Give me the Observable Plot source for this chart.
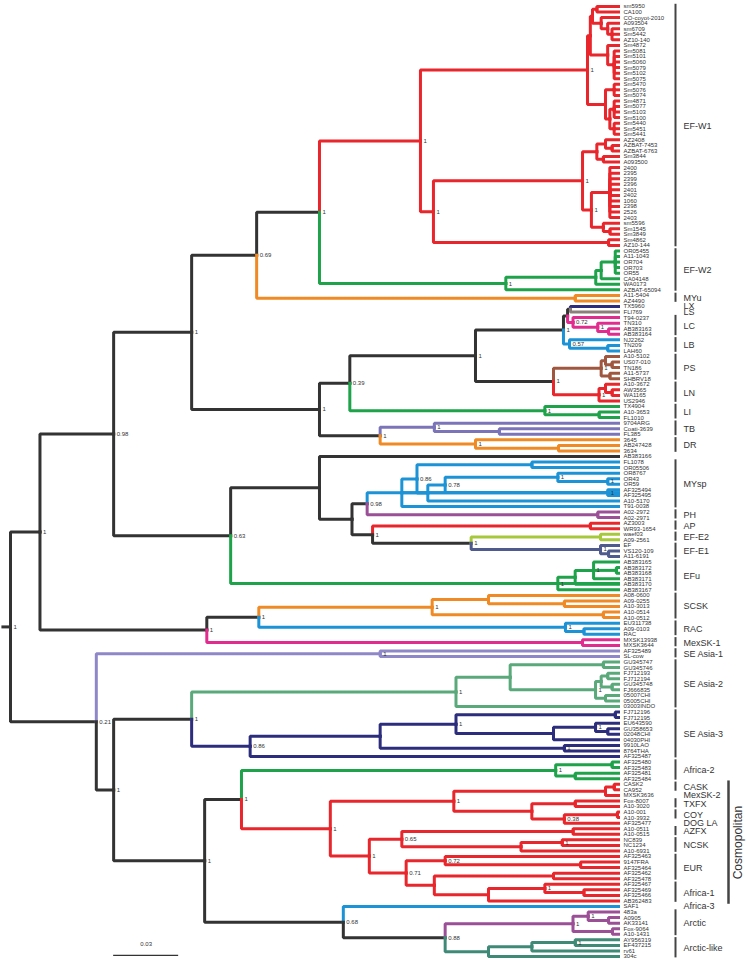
<!DOCTYPE html>
<html><head><meta charset="utf-8">
<script src="https://cdn.jsdelivr.net/npm/d3@7"></script>
<script src="https://cdn.jsdelivr.net/npm/@observablehq/plot@0.6"></script>
<style>
html,body{margin:0;padding:0;background:#fff;}
#chart svg{display:block;}
</style></head><body><div id="chart"></div>
<script>
// Node heights in units of 0.001 substitutions/site; "~" gives posterior support.
const cladeNames = ["EF-W1","EF-W2","MYu","LX","LS","LC","LB","PS","LN","LI","TB","DR","MYsp","PH","AP","EF-E2","EF-E1","EFu","SCSK","RAC","MexSK-1","SE Asia-1","SE Asia-2","SE Asia-3","Africa-2","Cosmopolitan","Africa-3","Arctic","Arctic-like"];
const cladeColors = ["#e8262b","#1ea34a","#f08a24","#2c2d7c","#8c7f7a","#e22b8e","#1b93d6","#a0573f","#e8262b","#1ea34a","#7c74b9","#f08a24","#1b93d6","#9a4f97","#e8262b","#a8c83c","#4f5b8c","#1ea34a","#f08a24","#1b93d6","#e22b8e","#8f88c8","#5aa97b","#2c2d7c","#1ea34a","#e8262b","#1b93d6","#9a4f97","#3f8a77"];
const cladeTrees = [
 "(((((sm5950,CA100)10,(CO-coyot-2010,(A093504,(sm6709,Sm5442,AZ10-140)3)5)8)12,(Sm4872,(Sm5081,Sm5101,Sm5060,Sm5079,Sm5102,Sm5075)2)5)13,((Sm5470,Sm5076,Sm5074)2,((Sm4871,Sm5077,Sm5103,Sm5100)2,(Sm5440,Sm5451,Sm5441)2)4)6)14.3~1,((((AZ2408,(AZBAT-7453,AZBAT-6763)3)6,(Sm3844,A093500)7)10,((2400,2395,2399,2396,2401,2402,1060,2398,2526,2403)4,(sm5596,(Sm1545,Sm3849)4)7)12.5~1)16.6~1,(Sm4862,AZ10-144)4.6)85.4~1)91.4~1",
 "((((OR05455,A11-1043,OR704,OR703,OR55)1.5,CA04148)8,WA0173)10.5,AZBAT-65094)52~1",
 "(A11-5404,AZ4490)20",
 "TX5960",
 "FLI769",
 "(T94-0237,(TN310,(AB383163,AB383164)4.6)9.6~1)21~0.72",
 "(NJ2262,(TN209,LAH60)5)22.6~0.57",
 "((A10-5102,(US07-010,TN186)3)6,(A11-5737,SHBRV18)4)8~1",
 "((A10-3672,(AW3565,WA1165)3)6,US2946)9~1",
 "(TX4904,(A10-3653,FL1010)9)34~1",
 "(9704ARG,(Coati-3639,FL385)55)85~1",
 "(3645,(AB247428,3634)27.7)66~1",
 "((((FL1078,OR05506)40,(((OR8767,(OR43,OR59)5~1)28~1,(AF325494,AF325495)5~1)80~0.78,A10-5170)88)93~0.86,T91-0038)100",
 "(A02-2972,A02-2971)9.6",
 "(AZ3003,WR93-1654)13",
 "(waef03,A09-2561)8.3",
 "(EF,(VS120-109,A11-6191)4.6)8.3~1",
 "((((AB383165,(AB383172,AB383168)1,AB383171)11.5~1,AB383170)20,AB383167)28~1",
 "((A08-0600,(A09-0255,A10-3013)25)60,(A10-0514,A10-0512)7)86~1",
 "(EU311738,(A09-0103,RAC)16)24.5~1",
 "(MXSK13938,MXSK3644)16.6",
 "(AF325489,SL-cow)110~1",
 "(((GU345747,GU345746)7,(((FJ712193,FJ712194)5,(GU345748,FJ666835)3)8,(05007CHI,05005CHI)6)10.6~1)50,03003INDO)75~1",
 "((((FJ712196,FJ712195)1.5,((EU643590,(GU358653,02048CHI)5)10.6~1,04030PHI)30)75~1,(9910LAO,8764THA)25~1)110,AF325487)170~0.86",
 "((AF325480,AF325483)3,(AF325481,AF325484)20)29~1",
 "((((CASK2,CA952)2,MXSK3636)6,((Fox-8007,A10-3020)20,((A10-001,A10-3932)0.5,AF325477)25~0.38)40)76~1,(((A10-0511,A10-0515)21,((NC839,NC1234)26~1,A10-6931)45)100~0.65,((AF325463,(9147FRA,AF325464)17.5)80~0.72,((AF325462,AF325478)30,((AF325467,(AF325469,AF325466)16)34~1,AB362483)60)85)98~0.71)115~1)133~1",
 "SAF1",
 "((483a,(A0905,AK33141)4.6)14~1,(Fox-9064,A10-1431)2.8)21~1",
 "(((AY956319,EF437215)20~1,rv61)40,304c)60"
];
const backbone = "((((((@EF-W1,@EF-W2)138~1,@MYu)167~0.69,((((((@LX,@LS)22.2,@LC)23.5,@LB)25.4~1,(@PS,@LN)30~1)66~1,@LI)124~0.39,(@TB,@DR)110~1)138~1)197~1,((AB383166,((@MYsp,@PH)116~0.98,(@AP,(@EF-E2,@EF-E1)68~1)113.5~1)123)138,@EFu)179~0.63)233~0.98,((@SCSK,@RAC)166~1,@MexSK-1)190~1)267~1,(@SE Asia-1,((@SE Asia-2,@SE Asia-3)197~1,((@Africa-2,@Cosmopolitan)174~1,(@Africa-3,(@Arctic,@Arctic-like)80~0.88)127~0.68)191~1)233~1)241~0.21)280.6~1";
const subLabels = ["CASK","MexSK-2","TXFX","COY","DOG LA","AZFX","NCSK","EUR","Africa-1"];
const subFirst = ["CASK2","MXSK3636","Fox-8007","A10-001","AF325477","A10-0511","NC839","AF325463","AF325467"];
const subLast  = ["CA952","MXSK3636","A10-3020","A10-3932","AF325477","A10-0515","A10-6931","AF325478","AB362483"];
const scaleLength = 0.03;

// ---------- parsing ----------
function parse(str){
  const s = str.replace(/\s*([(),~])\s*/g,"$1").trim();
  let i = 0;
  function node(){
    const n = {children: []};
    if (s[i] === "(") {
      i++;
      n.children.push(node());
      while (s[i] === ",") { i++; n.children.push(node()); }
      i++;
      const m = /^[0-9.]*/.exec(s.slice(i))[0]; i += m.length; n.h = (+m || 0) / 1000;
      if (s[i] === "~") { i++; const m2 = /^[0-9.]+/.exec(s.slice(i))[0]; i += m2.length; n.support = m2; }
    } else {
      const m = /^[^,()~]+/.exec(s.slice(i))[0]; i += m.length; n.name = m.trim(); n.h = 0;
    }
    return n;
  }
  return node();
}
const clades = new Map(cladeNames.map((c, k) => [c, {tree: parse(cladeTrees[k]), color: cladeColors[k]}]));
function paint(n, color, clade){ n.color = color; n.clade = clade; n.children.forEach(c => paint(c, color, clade)); }
function expand(n){
  if (n.name && n.name.startsWith("@")) {
    const key = n.name.slice(1), c = clades.get(key);
    paint(c.tree, c.color, key);
    return c.tree;
  }
  n.color = n.color || "#333333";
  n.children = n.children.map(expand);
  return n;
}
const root = expand(parse(backbone));

// ---------- layout ----------
const leaves = [], edges = [], nodes = [];
function layout(n){
  if (!n.children.length) { n.row = leaves.length + 1; leaves.push(n); }
  else { n.children.forEach(layout); n.row = (n.children[0].row + n.children[n.children.length-1].row) / 2; }
  nodes.push(n);
}
layout(root);
function link(n){ n.children.forEach(c => { edges.push({x1: n.h, y1: n.row, x2: c.h, y2: c.row, color: c.color}); link(c); }); }
link(root);
edges.push({x1: root.h + 0.0035, y1: root.row, x2: root.h, y2: root.row, color: "#333333"});
const leafRow = new Map(leaves.map(l => [l.name, l.row]));
function tipsOf(t){ const ls = []; (function walk(n){ if (!n.children.length) ls.push(n); n.children.forEach(walk); })(t); return ls; }

// clade label table
const cladeLab = [];
for (const [name, c] of clades) {
  if (name === "Cosmopolitan") continue;
  const ls = tipsOf(c.tree);
  cladeLab.push({name, r1: ls[0].row, r2: ls[ls.length-1].row});
}
subLabels.forEach((s, k) => cladeLab.push({name: s, r1: leafRow.get(subFirst[k]), r2: leafRow.get(subLast[k])}));
const cosmoTips = tipsOf(clades.get("Cosmopolitan").tree);
const cosmo = {r1: cosmoTips[0].row, r2: cosmoTips[cosmoTips.length-1].row};

const font = "'Liberation Sans', Arial, Helvetica, sans-serif";
const chart = Plot.plot({
  width: 748, height: 962,
  margin: 0,
  style: {fontFamily: font, background: "#fff"},
  x: {domain: [root.h, 0], range: [10, 618], axis: null},
  y: {domain: [1, leaves.length], range: [6, 956], axis: null},
  marks: [
    Plot.link(edges, {x1: "x1", y1: "y1", x2: "x2", y2: "y2", curve: "step-before", stroke: "color", strokeWidth: 3, strokeLinejoin: "miter", strokeLinecap: "square"}),
    Plot.text(leaves, {x: "h", y: "row", text: "name", dx: 5, textAnchor: "start", fontSize: 6, fill: "#333"}),
    Plot.text(nodes.filter(n => n.support), {x: "h", y: "row", text: "support", dx: 3, textAnchor: "start", fontSize: 6, fill: "#333"}),
    Plot.ruleX(cladeLab.filter(d => d.r2 > d.r1), {x: 0, y1: d => d.r1 - 0.4, y2: d => d.r2 + 0.25, dx: 57, stroke: "#444", strokeWidth: 2}),
    Plot.text(cladeLab, {x: 0, y: d => (d.r1 + d.r2) / 2, text: "name", dx: 65, textAnchor: "start", fontSize: 9, fill: "#333"}),
    Plot.ruleX([cosmo], {x: 0, y1: d => d.r1 - 0.6, y2: d => d.r2 + 0.6, dx: 110, stroke: "#444", strokeWidth: 2.5}),
    Plot.text([cosmo], {x: 0, y: d => (d.r1 + d.r2) / 2, text: () => "Cosmopolitan", dx: 120, rotate: -90, fontSize: 12, fill: "#333"}),
    Plot.ruleY([leaves.length - 0.2], {x1: 0.233, x2: 0.233 - scaleLength, stroke: "#333", strokeWidth: 1.2}),
    Plot.text([scaleLength], {x: 0.233 - scaleLength / 2, y: leaves.length - 2.3, text: d => String(d), fontSize: 6, fill: "#333"})
  ]
});
document.getElementById("chart").append(chart);
</script>
</body></html>
